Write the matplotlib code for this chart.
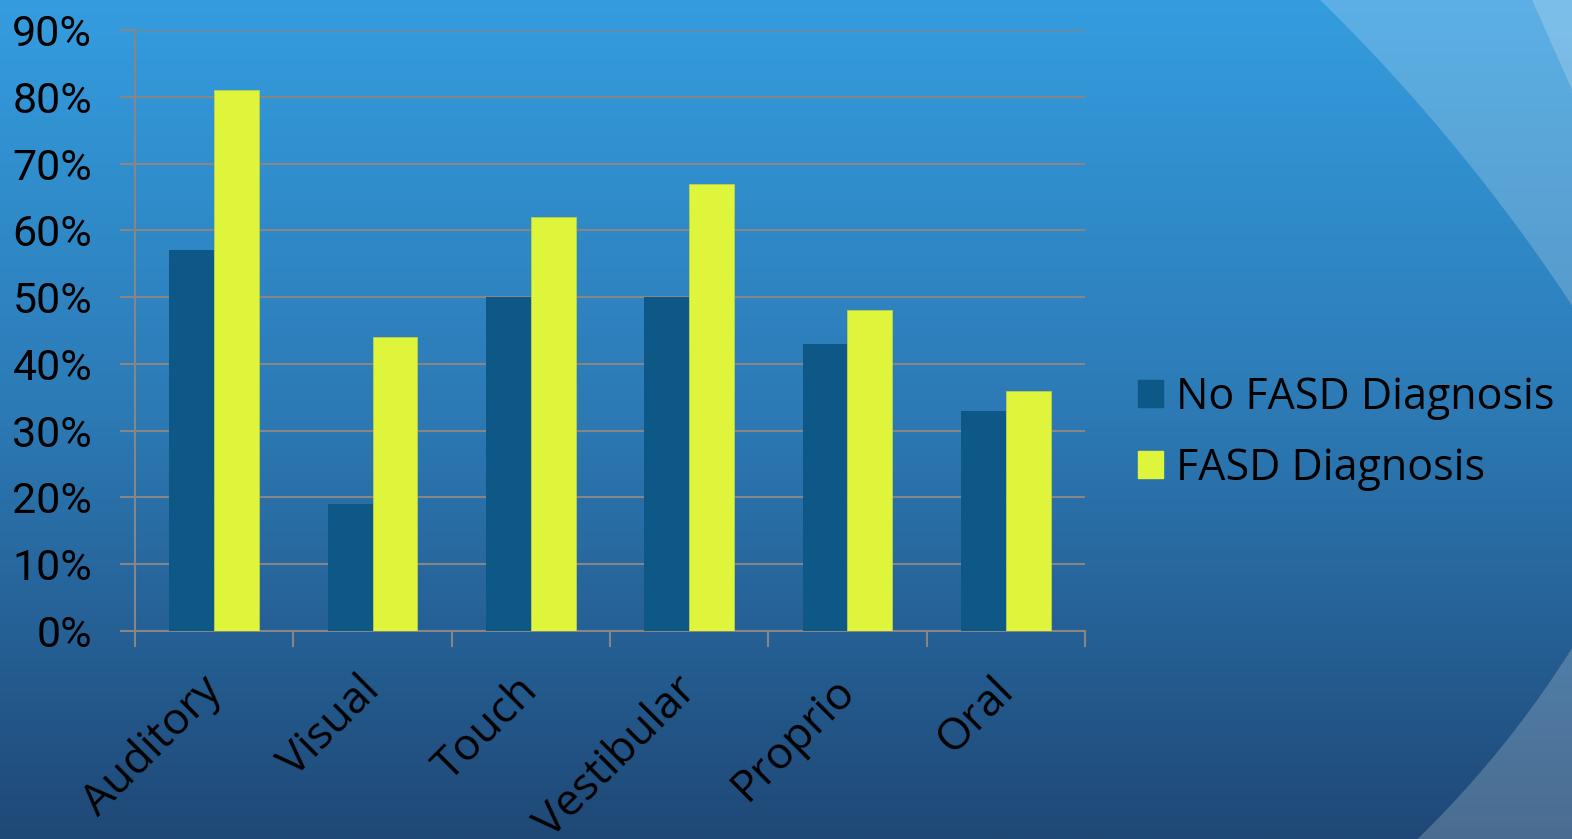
import numpy as np
import matplotlib
matplotlib.use('Agg')
import matplotlib.pyplot as plt
import matplotlib.ticker as ticker
import matplotlib.transforms as mtransforms
from matplotlib.patches import Polygon, Patch

# ---- data ----
categories = ['Auditory', 'Visual', 'Touch', 'Vestibular', 'Proprio', 'Oral']
no_fasd = [57, 19, 50, 50, 43, 33]
fasd = [81, 44, 62, 67, 48, 36]
series_names = ['No FASD Diagnosis', 'FASD Diagnosis']

DARK = '#0d5886'
YELLOW = '#def53c'
GRID = '#868686'
W, H = 1572, 839

plt.rcParams['font.family'] = ['Open Sans', 'DejaVu Sans']

fig = plt.figure(figsize=(W / 100, H / 100), dpi=100)

# ---- slide background ----
bg = fig.add_axes([0, 0, 1, 1], zorder=-10)
top = np.array([52, 157, 223]) / 255
mid = np.array([44, 121, 180]) / 255
bot = np.array([31, 72, 118]) / 255
yy = np.linspace(0, 1, 400)[:, None]
grad = np.where(yy < 0.5, top + (mid - top) * (yy / 0.5), mid + (bot - mid) * ((yy - 0.5) / 0.5))
bg.imshow(grad[:, None, :], extent=[0, W, H, 0], aspect='auto', interpolation='bilinear')

# light swooshes
t = np.radians(np.linspace(25, 55, 80))
arc1 = np.column_stack([27 + 1850 * np.cos(t), 1323 - 1850 * np.sin(t)])
bg.add_patch(Polygon(np.vstack([arc1, [[3000, -3000]]]), closed=True, fc='white', alpha=0.2, lw=0))
bg.add_patch(Polygon([[1510, -50], [1600, 153], [2200, -500]], closed=True, fc='white', alpha=0.2, lw=0))
t = np.radians(np.linspace(20, 60, 80))
arc3 = np.column_stack([700 + 1030 * np.cos(t), 100 + 1030 * np.sin(t)])
bg.add_patch(Polygon(np.vstack([arc3, [[3000, 3000]]]), closed=True, fc='white', alpha=0.2, lw=0))
bg.set_xlim(0, W)
bg.set_ylim(H, 0)
bg.axis('off')

# ---- chart ----
ax = fig.add_axes([135 / W, 1 - 631 / H, 950 / W, 601 / H])
ax.set_facecolor('none')
x = np.arange(len(categories))
w = 0.284
ax.bar(x - w / 2, np.array(no_fasd) / 100, w, color=DARK, zorder=3)
ax.bar(x + w / 2, np.array(fasd) / 100, w, color=YELLOW, edgecolor='#b9d24a', lw=0.6, zorder=3)

ax.set_xlim(-0.5, len(categories) - 0.5)
ax.set_ylim(0, 0.9)
ax.yaxis.set_major_locator(ticker.MultipleLocator(0.1))
ax.yaxis.set_major_formatter(ticker.PercentFormatter(1.0, decimals=0))
ax.grid(axis='y', color=GRID, lw=1.5, zorder=0)

ax.set_xticks(x)
ax.set_xticklabels(categories, rotation=45, ha='right', va='top', rotation_mode='anchor')
ax.set_xticks(np.arange(-0.5, len(categories), 1), minor=True)
ax.tick_params(axis='x', which='major', length=0, pad=27, labelsize=32)
ax.tick_params(axis='x', which='minor', length=11.5, width=1.5, color=GRID)
ax.tick_params(axis='y', length=10.8, width=1.5, color=GRID, pad=20, labelsize=31)
for lab in ax.get_yticklabels():
    lab.set_family(['Roboto', 'DejaVu Sans'])
shift = mtransforms.ScaledTranslation(-15 / 100, 0, fig.dpi_scale_trans)
for lab in ax.get_xticklabels():
    lab.set_transform(lab.get_transform() + shift)

for s in ['top', 'right']:
    ax.spines[s].set_visible(False)
for s in ['left', 'bottom']:
    ax.spines[s].set_color(GRID)
    ax.spines[s].set_linewidth(1.5)

handles = [Patch(color=DARK), Patch(color=YELLOW)]
fig.legend(handles, series_names, loc='center left', bbox_to_anchor=(1121 / W, 1 - 433 / H),
           frameon=False, fontsize=31, handlelength=0.58, handleheight=0.58,
           handletextpad=0.3, labelspacing=0.62, borderaxespad=0)

fig.savefig('out.png', dpi=100)
